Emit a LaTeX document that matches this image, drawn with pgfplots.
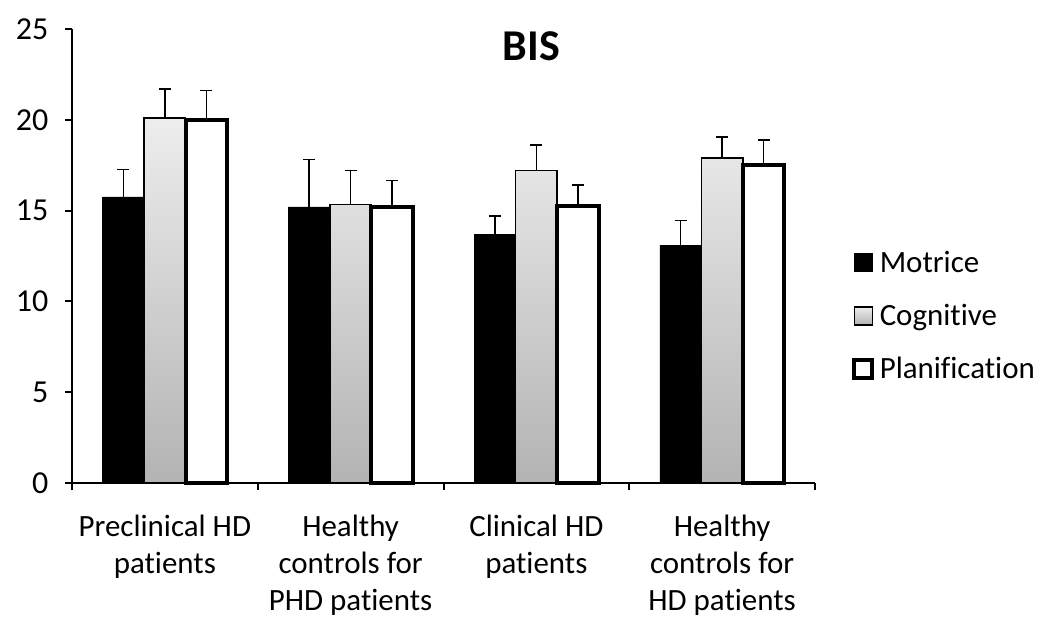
\documentclass[border=0pt]{standalone}
\usepackage{pgfplots}
\pgfplotsset{compat=1.18}
\usepackage{fontspec}
\setmainfont[Ligatures={NoCommon}]{Carlito}
\definecolor{gtop}{HTML}{EDEDED}
\definecolor{gbot}{HTML}{B3B3B3}
\begin{document}
\begin{tikzpicture}
\begin{axis}[name=ax, scale only axis, width=557.25pt, height=340.5pt,
  ybar=0pt, bar width=31.1pt,
  xmin=0.5, xmax=4.5, ymin=0, ymax=25, clip=false,
  axis lines*=left, axis line style={line width=1.5pt},
  xtick={1,2,3,4},
  xticklabels={{Preclinical HD\\patients},{Healthy\\controls for\\PHD patients},{Clinical HD\\patients},{Healthy\\controls for\\HD patients}},
  minor xtick={0.5,1.5,2.5,3.5,4.5},
  ytick={0,5,10,15,20,25},
  tick align=outside, major tick length=5.25pt, minor tick length=5.25pt,
  tick style={line width=1.5pt, black},
  major x tick style={draw=none},
  /pgf/number format/assume math mode=true,
  xticklabel style={align=center, font=\fontsize{23.2}{27.75}\selectfont, yshift=-15pt},
  yticklabel style={font=\fontsize{24}{28}\selectfont, xshift=-9pt},
  legend cell align=left,
  legend style={draw=none, at={(rel axis cs:1.05,0.368)}, anchor=west,
    font=\fontsize{23.2}{27.75}\selectfont, row sep=18.5pt, inner sep=0pt,
    /tikz/every odd column/.append style={column sep=2pt}},
  legend image code/.code={\draw[#1] (0pt,-6.75pt) rectangle (13.5pt,6.75pt);},
  error bars/y dir=plus, error bars/y explicit,
  error bars/error bar style={line width=1.1pt, black},
  error bars/error mark options={rotate=90, mark size=4.5pt, line width=1.1pt, black},
]
\addplot[fill=black, draw=black, line width=0.5pt] coordinates {
  (1,15.75) +- (0,1.5)
  (2,15.2)  +- (0,2.6)
  (3,13.7)  +- (0,1.0)
  (4,13.1)  +- (0,1.35)
};
\addplot[top color=gtop, bottom color=gbot, draw=black, line width=1.1pt] coordinates {
  (1,20.1)  +- (0,1.6)
  (2,15.35) +- (0,1.85)
  (3,17.2)  +- (0,1.4)
  (4,17.9)  +- (0,1.15)
};
\addplot[fill=white, draw=black, line width=3pt] coordinates {
  (1,20.0)  +- (0,1.6)
  (2,15.2)  +- (0,1.45)
  (3,15.25) +- (0,1.15)
  (4,17.5)  +- (0,1.4)
};
\legend{Motrice,Cognitive,Planification}
\node[font=\bfseries\fontsize{33}{40}\selectfont] at (rel axis cs:0.618,0.962) {BIS};
\end{axis}
\path[use as bounding box] (ax.south west) ++(-54pt,-99.75pt) rectangle ++(780.75pt,462pt);
\end{tikzpicture}
\end{document}
